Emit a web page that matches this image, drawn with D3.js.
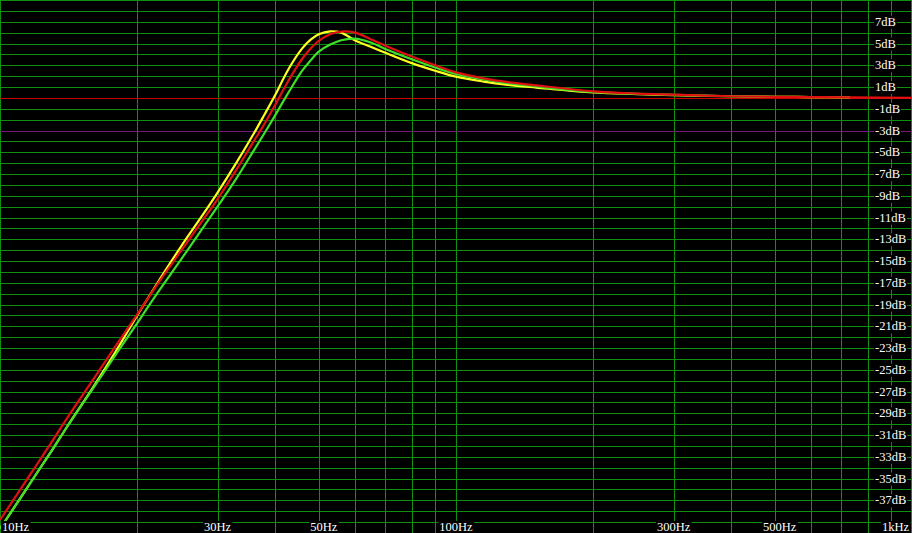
<!DOCTYPE html>
<html>
<head>
<meta charset="utf-8">
<script src="https://cdn.jsdelivr.net/npm/d3@7"></script>
<style>
  html, body { margin: 0; padding: 0; background: #000; overflow: hidden; }
  svg { display: block; }
</style>
</head>
<body>
<svg id="chart" width="912" height="533"></svg>
<script>
// ---- data ----
const freqs    = [10, 11, 12, 13, 14, 16, 18, 20, 22, 25, 28, 30, 33, 36, 38, 40, 43, 46, 48, 50, 53, 56, 60, 65, 70, 80, 90, 100, 115, 130, 150, 200, 250, 300, 400, 500, 600, 730, 1000];
const redDb    = [-38.8, -36.2, -33.8, -31.6, -29.5, -25.9, -22.7, -19.9, -17.3, -14.0, -11.1, -9.3, -6.6, -4.0, -2.4, -0.75, 1.65, 3.6, 4.55, 5.25, 5.85, 6.1, 6.0, 5.4, 4.8, 3.8, 3.0, 2.35, 1.8, 1.45, 1.15, 0.6, 0.4, 0.3, 0.15, 0.1, 0.08, 0.05, 0.0];
const greenDb  = [-39.6, -37.0, -34.6, -32.4, -30.3, -26.7, -23.5, -20.7, -18.1, -14.8, -11.8, -10.0, -7.4, -4.85, -3.25, -1.7, 0.55, 2.5, 3.45, 4.25, 4.9, 5.3, 5.45, 5.1, 4.5, 3.55, 2.8, 2.2, 1.7, 1.35, 1.05, 0.55, 0.38, 0.28, 0.15, 0.1, 0.08, 0.05, null];
const yellowDb = [-39.6, -37.0, -34.6, -32.4, -30.3, -26.6, -23.2, -20.0, -17.2, -13.6, -10.6, -8.7, -5.95, -3.3, -1.55, 0.15, 2.7, 4.55, 5.35, 5.85, 6.12, 6.0, 5.3, 4.7, 4.15, 3.2, 2.5, 1.95, 1.5, 1.2, 0.95, 0.5, 0.35, 0.25, 0.15, 0.1, 0.08, 0.05, null];

const xGridFreqs  = [10, 20, 30, 40, 50, 60, 70, 80, 90, 100, 200, 300, 400, 500, 600, 700, 800, 900, 1000];
const xLabelFreqs = [10, 30, 50, 100, 300, 500, 1000];
const xLabelText  = ["10Hz", "30Hz", "50Hz", "100Hz", "300Hz", "500Hz", "1kHz"];
const dbGrid   = d3.range(9, -41, -1);
const dbLabels = d3.range(7, -38, -2);

// ---- layout ----
const W = 912, H = 533;
const svg = d3.select("#chart");
const x = d3.scaleLog().domain([10, 1000]).range([0, W]);
const y = d3.scaleLinear().domain([9, -40]).range([0, H]);

svg.append("rect").attr("width", W).attr("height", H).attr("fill", "#000");

const grid = svg.append("g").attr("shape-rendering", "crispEdges");
grid.selectAll("line.h").data(dbGrid).join("line")
  .attr("x1", 0).attr("x2", W)
  .attr("y1", d => Math.round(y(d)) + 0.5).attr("y2", d => Math.round(y(d)) + 0.5)
  .attr("stroke", "#0f8f0f").attr("stroke-width", 1);
grid.selectAll("line.v").data(xGridFreqs).join("line")
  .attr("y1", 0).attr("y2", H)
  .attr("x1", d => Math.min(W - 1, Math.round(x(d))) + 0.5).attr("x2", d => Math.min(W - 1, Math.round(x(d))) + 0.5)
  .attr("stroke", "#0f8f0f").attr("stroke-width", 1);

// reference lines 0 dB and -3 dB
grid.append("line").attr("x1", 0).attr("x2", W)
  .attr("y1", Math.round(y(0)) + 0.5).attr("y2", Math.round(y(0)) + 0.5)
  .attr("stroke", "#c80000");
grid.append("line").attr("x1", 0).attr("x2", W)
  .attr("y1", Math.round(y(-3)) + 0.5).attr("y2", Math.round(y(-3)) + 0.5)
  .attr("stroke", "#7a1a7a");

// curves
svg.append("clipPath").attr("id", "clip").append("rect").attr("width", W).attr("height", H);
const line = d3.line()
  .defined(d => d[1] !== null)
  .x(d => x(d[0])).y(d => y(d[1]))
  .curve(d3.curveCatmullRom.alpha(0.5));
const series = [
  { vals: yellowDb, color: "#ffff20" },
  { vals: greenDb,  color: "#40e02a" },
  { vals: redDb,    color: "#e01010" }
];
const curves = svg.append("g").attr("clip-path", "url(#clip)");
series.forEach(s => {
  curves.append("path")
    .datum(freqs.map((f, i) => [f, s.vals[i]]))
    .attr("d", line)
    .attr("fill", "none")
    .attr("stroke", s.color)
    .attr("stroke-width", 2.2)
    .attr("stroke-linejoin", "round");
});

// labels with black background
const font = "'Liberation Serif', 'Times New Roman', serif";
const labels = svg.append("g");
function addLabel(txt, tx, ty, anchor) {
  const g = labels.append("g");
  const t = g.append("text")
    .attr("x", tx).attr("y", ty)
    .attr("text-anchor", anchor)
    .attr("font-family", font).attr("font-size", 12.5)
    .attr("fill", "#ffffff")
    .text(txt);
  const b = t.node().getBBox();
  g.insert("rect", "text")
    .attr("x", b.x - 1).attr("y", b.y + 1)
    .attr("width", b.width + 2).attr("height", b.height - 1)
    .attr("fill", "#000");
}
dbLabels.forEach(d => addLabel(d + "dB", 875, y(d) + 4, "start"));
xLabelFreqs.forEach((f, i) => {
  let px = x(f), anchor = "middle";
  if (i === 0) { px = 2; anchor = "start"; }
  if (i === xLabelFreqs.length - 1) { px = 909; anchor = "end"; }
  if (f === 50) px = x(f) + 5;
  if (f === 500) px = x(f) + 5;
  addLabel(xLabelText[i], px, 531, anchor);
});
</script>
</body>
</html>
